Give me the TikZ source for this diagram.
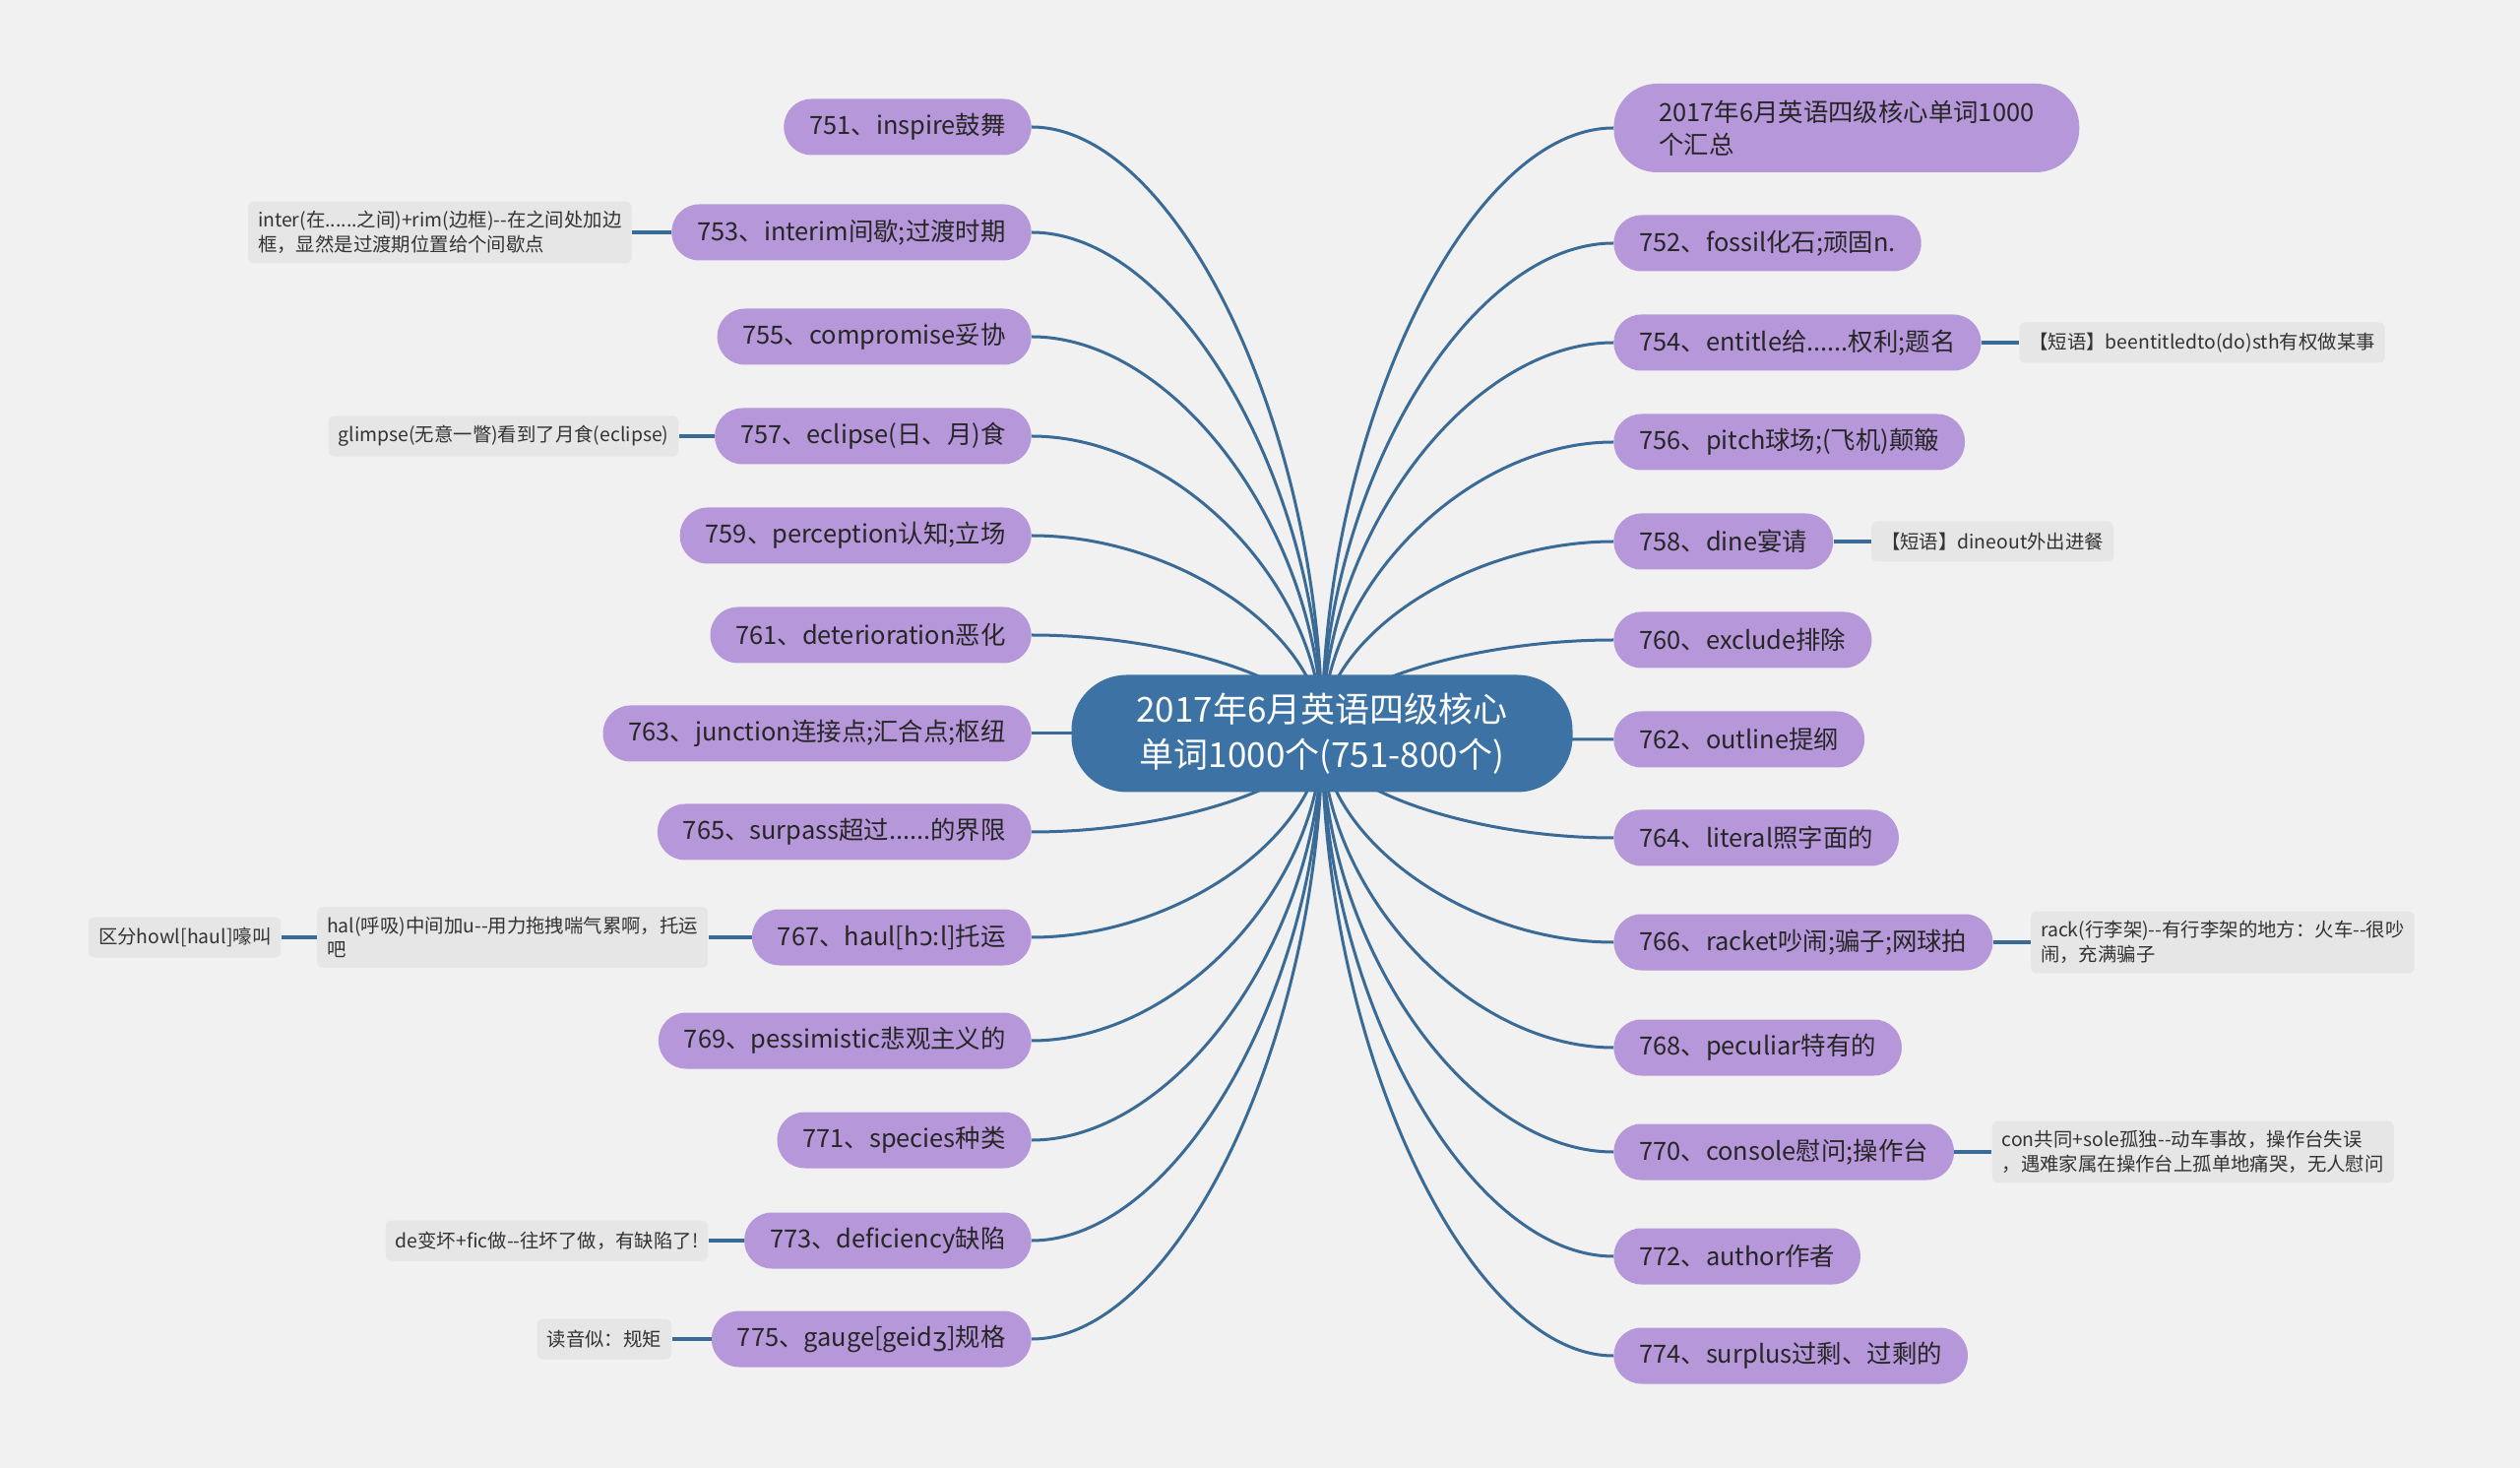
\documentclass[tikz,border=0pt]{standalone}
\usepackage{fontspec}
\newfontfamily\cjkfont{Noto Sans CJK SC}
\newfontfamily\ipafont{DejaVu Sans}
\usetikzlibrary{positioning,calc,backgrounds}
\definecolor{pagegray}{RGB}{241,241,241}
\definecolor{rootblue}{RGB}{60,114,164}
\definecolor{leafpurple}{RGB}{182,151,218}
\definecolor{notegray}{RGB}{230,230,230}
\definecolor{linkblue}{RGB}{58,106,150}

\begin{document}
\begin{tikzpicture}[x=0.5pt, y=-0.5pt, node distance=19pt,
    root/.style={fill=rootblue, text=white, rounded corners=28pt, minimum width=254.5pt,
      minimum height=59.5pt, align=center, font=\cjkfont\fontsize{17.5}{23}\selectfont},
    leaf/.style={fill=leafpurple, text=black!85, rounded corners=14pt, minimum height=28.5pt,
      inner xsep=13pt, font=\cjkfont\fontsize{12.7}{16.5}\selectfont},
    note/.style={fill=notegray, text=black!80, rounded corners=3pt, minimum height=20.5pt,
      inner xsep=5pt, inner ysep=5pt, align=left, font=\cjkfont\fontsize{9.7}{12.25}\selectfont},
    branch/.style={draw=linkblue, line width=1.5pt},
    stub/.style={draw=linkblue, line width=2pt}]

  % Centre topic
  \node[root] (root) at (1343,745) {2017年6月英语四级核心\\单词1000个(751-800个)};

  % Left branches
  \node[leaf, anchor=east] (n751) at (1048,129)  {751、inspire鼓舞};
  \node[leaf, anchor=east] (n753) at (1048,236)  {753、interim间歇;过渡时期};
  \node[leaf, anchor=east] (n755) at (1048,342)  {755、compromise妥协};
  \node[leaf, anchor=east] (n757) at (1048,443)  {757、eclipse(日、月)食};
  \node[leaf, anchor=east] (n759) at (1048,544)  {759、perception认知;立场};
  \node[leaf, anchor=east] (n761) at (1048,645)  {761、deterioration恶化};
  \node[leaf, anchor=east] (n763) at (1048,745)  {763、junction连接点;汇合点;枢纽};
  \node[leaf, anchor=east] (n765) at (1048,845)  {765、surpass超过......的界限};
  \node[leaf, anchor=east] (n767) at (1048,952)  {767、haul[h{\ipafont ɔ}:l]托运};
  \node[leaf, anchor=east] (n769) at (1048,1057) {769、pessimistic悲观主义的};
  \node[leaf, anchor=east] (n771) at (1048,1158) {771、species种类};
  \node[leaf, anchor=east] (n773) at (1048,1260) {773、deficiency缺陷};
  \node[leaf, anchor=east] (n775) at (1048,1360) {775、gauge[geid{\ipafont ʒ}]规格};

  % Right branches
  \node[leaf, anchor=west, align=left, inner xsep=23pt, minimum height=45pt, rounded corners=22pt]
    (head) at (1639,130) {2017年6月英语四级核心单词1000\\个汇总};
  \node[leaf, anchor=west] (n752) at (1639,247)  {752、fossil化石;顽固n.};
  \node[leaf, anchor=west] (n754) at (1639,348)  {754、entitle给......权利;题名};
  \node[leaf, anchor=west] (n756) at (1639,449)  {756、pitch球场;(飞机)颠簸};
  \node[leaf, anchor=west] (n758) at (1639,550)  {758、dine宴请};
  \node[leaf, anchor=west] (n760) at (1639,650)  {760、exclude排除};
  \node[leaf, anchor=west] (n762) at (1639,751)  {762、outline提纲};
  \node[leaf, anchor=west] (n764) at (1639,851)  {764、literal照字面的};
  \node[leaf, anchor=west] (n766) at (1639,957)  {766、racket吵闹;骗子;网球拍};
  \node[leaf, anchor=west] (n768) at (1639,1064) {768、peculiar特有的};
  \node[leaf, anchor=west] (n770) at (1639,1170) {770、console慰问;操作台};
  \node[leaf, anchor=west] (n772) at (1639,1276) {772、author作者};
  \node[leaf, anchor=west] (n774) at (1639,1377) {774、surplus过剩、过剩的};

  % Notes
  \node[note, left=20pt of n753] (tip753) {inter(在......之间)+rim(边框)--在之间处加边\\框，显然是过渡期位置给个间歇点};
  \node[note, left=18pt of n757] (tip757) {glimpse(无意一瞥)看到了月食(eclipse)};
  \node[note, left=22pt of n767] (tip767) {hal(呼吸)中间加u--用力拖拽喘气累啊，托运\\吧};
  \node[note, left=18pt of tip767] (howl) {区分howl[haul]嚎叫};
  \node[note, left=18pt of n773] (tip773) {de变坏+fic做--往坏了做，有缺陷了!};
  \node[note, left=20pt of n775] (tip775) {读音似：规矩};
  \node[note, right=of n754] (tip754) {【短语】beentitledto(do)sth有权做某事};
  \node[note, right=of n758] (tip758) {【短语】dineout外出进餐};
  \node[note, right=of n766] (tip766) {rack(行李架)--有行李架的地方：火车--很吵\\闹，充满骗子};
  \node[note, right=of n770] (tip770) {con共同+sole孤独--动车事故，操作台失误\\，遇难家属在操作台上孤单地痛哭，无人慰问};

  % Note links
  \draw[stub] (n753) -- (tip753);
  \draw[stub] (n757) -- (tip757);
  \draw[stub] (n767) -- (tip767);
  \draw[stub] (tip767) -- (howl);
  \draw[stub] (n773) -- (tip773);
  \draw[stub] (n775) -- (tip775);
  \draw[stub] (n754) -- (tip754);
  \draw[stub] (n758) -- (tip758);
  \draw[stub] (n766) -- (tip766);
  \draw[stub] (n770) -- (tip770);

  % Page and branch curves behind the nodes
  \begin{scope}[on background layer]
    \fill[pagegray] (0,0) rectangle (2560,1491);
    \foreach \n in {n751,n753,n755,n757,n759,n761,n763,n765,n767,n769,n771,n773,n775}
      \draw[branch] (root.center) .. controls ($(root.center)!0.5!(root.center |- \n.east)$)
        and ($(root.center |- \n.east)!0.5!(\n.east)$) .. (\n.east);
    \foreach \n in {head,n752,n754,n756,n758,n760,n762,n764,n766,n768,n770,n772,n774}
      \draw[branch] (root.center) .. controls ($(root.center)!0.5!(root.center |- \n.west)$)
        and ($(root.center |- \n.west)!0.5!(\n.west)$) .. (\n.west);
  \end{scope}

\end{tikzpicture}
\end{document}
